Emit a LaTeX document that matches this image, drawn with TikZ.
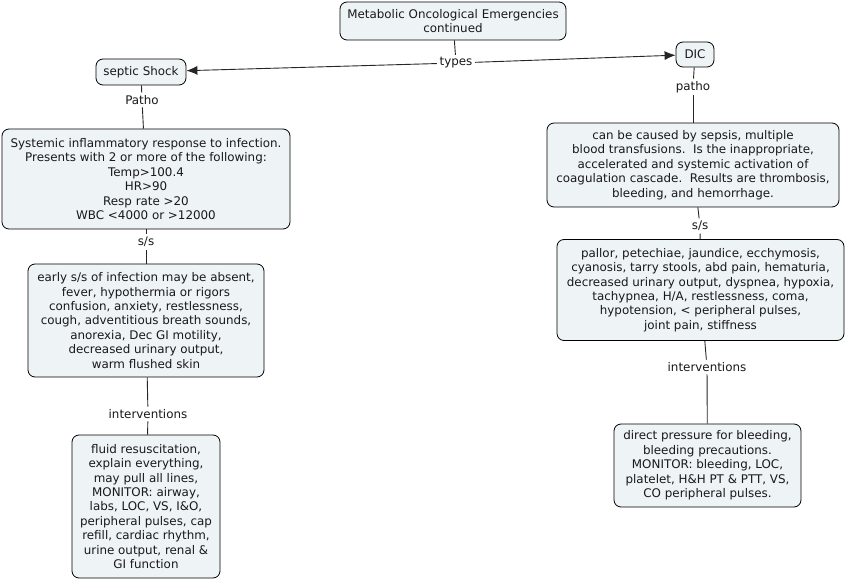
\documentclass[tikz,border=0pt]{standalone}
\usepackage{fontspec}
\setmainfont{DejaVu Sans}
\usetikzlibrary{arrows.meta}
\definecolor{boxfill}{HTML}{EEF3F5}
\tikzset{
  cbox/.style={draw=black, fill=boxfill, rounded corners=7pt, line width=0.8pt, align=center,
    inner sep=0pt, font=\fontsize{11.9}{14.4}\selectfont, text=black!90},
  clabel/.style={fill=white, inner sep=2.5pt, font=\fontsize{11.9}{14.4}\selectfont, text=black!90},
  link/.style={draw=black!85, line width=0.9pt},
  arr/.style={link, -{Latex[length=11pt,width=9pt]}}
}
\begin{document}
\begin{tikzpicture}[x=1pt,y=-1pt]
\useasboundingbox (0,0) rectangle (847,580);
\node[cbox, minimum width=226pt, minimum height=38pt] (title) at (453,21) {Metabolic Oncological Emergencies\\continued};
\node[cbox, minimum width=38pt, minimum height=25pt] (dic) at (695,54.5) {DIC};
\node[cbox, minimum width=90pt, minimum height=26pt] (septic) at (141,72) {septic Shock};
\node[clabel] (types) at (456,63) {types};
\node[clabel] (patho1) at (142,100) {Patho};
\node[cbox, minimum width=288pt, minimum height=100pt] (sys) at (146,179) {Systemic inflammatory response to infection.\\Presents with 2 or more of the following:\\Temp>100.4\\HR>90\\Resp rate >20\\WBC <4000 or >12000};
\node[clabel] (ss1) at (146,242) {s/s};
\node[cbox, minimum width=236pt, minimum height=113pt] (early) at (146,320.5) {early s/s of infection may be absent,\\fever, hypothermia or rigors\\confusion, anxiety, restlessness,\\cough, adventitious breath sounds,\\anorexia, Dec GI motility,\\decreased urinary output,\\warm flushed skin};
\node[clabel] (int1) at (148,414) {interventions};
\node[cbox, minimum width=148pt, minimum height=143pt] (fluid) at (146,506.5) {fluid resuscitation,\\explain everything,\\may pull all lines,\\MONITOR: airway,\\labs, LOC, VS, I\&O,\\peripheral pulses, cap\\refill, cardiac rhythm,\\urine output, renal \&\\GI function};
\node[clabel] (patho2) at (693,87) {patho};
\node[cbox, minimum width=292pt, minimum height=84pt] (cause) at (693,165) {can be caused by sepsis, multiple\\blood transfusions.\ \ Is the inappropriate,\\accelerated and systemic activation of\\coagulation cascade.\ \ Results are thrombosis,\\bleeding, and hemorrhage.};
\node[clabel] (ss2) at (700,226) {s/s};
\node[cbox, minimum width=287pt, minimum height=101pt] (pallor) at (700.5,290) {pallor, petechiae, jaundice, ecchymosis,\\cyanosis, tarry stools, abd pain, hematuria,\\decreased urinary output, dyspnea, hypoxia,\\tachypnea, H/A, restlessness, coma,\\hypotension, < peripheral pulses,\\joint pain, stiffness};
\node[clabel] (int2) at (707,367) {interventions};
\node[cbox, minimum width=187pt, minimum height=83pt] (direct) at (707.5,465.5) {direct pressure for bleeding,\\bleeding precautions.\\MONITOR: bleeding, LOC,\\platelet, H\&H PT \& PTT, VS,\\CO peripheral pulses.};
\draw[link] (title) -- (types);
\draw[arr] (types) -- (septic);
\draw[arr] (types) -- (dic);
\draw[link] (septic) -- (patho1);
\draw[link] (patho1) -- (sys);
\draw[link] (sys) -- (ss1);
\draw[link] (ss1) -- (early);
\draw[link] (early) -- (int1);
\draw[link] (int1) -- (fluid);
\draw[link] (dic) -- (patho2);
\draw[link] (patho2) -- (cause);
\draw[link] (cause) -- (ss2);
\draw[link] (ss2) -- (pallor);
\draw[link] (pallor) -- (int2);
\draw[link] (int2) -- (direct);
\end{tikzpicture}
\end{document}
